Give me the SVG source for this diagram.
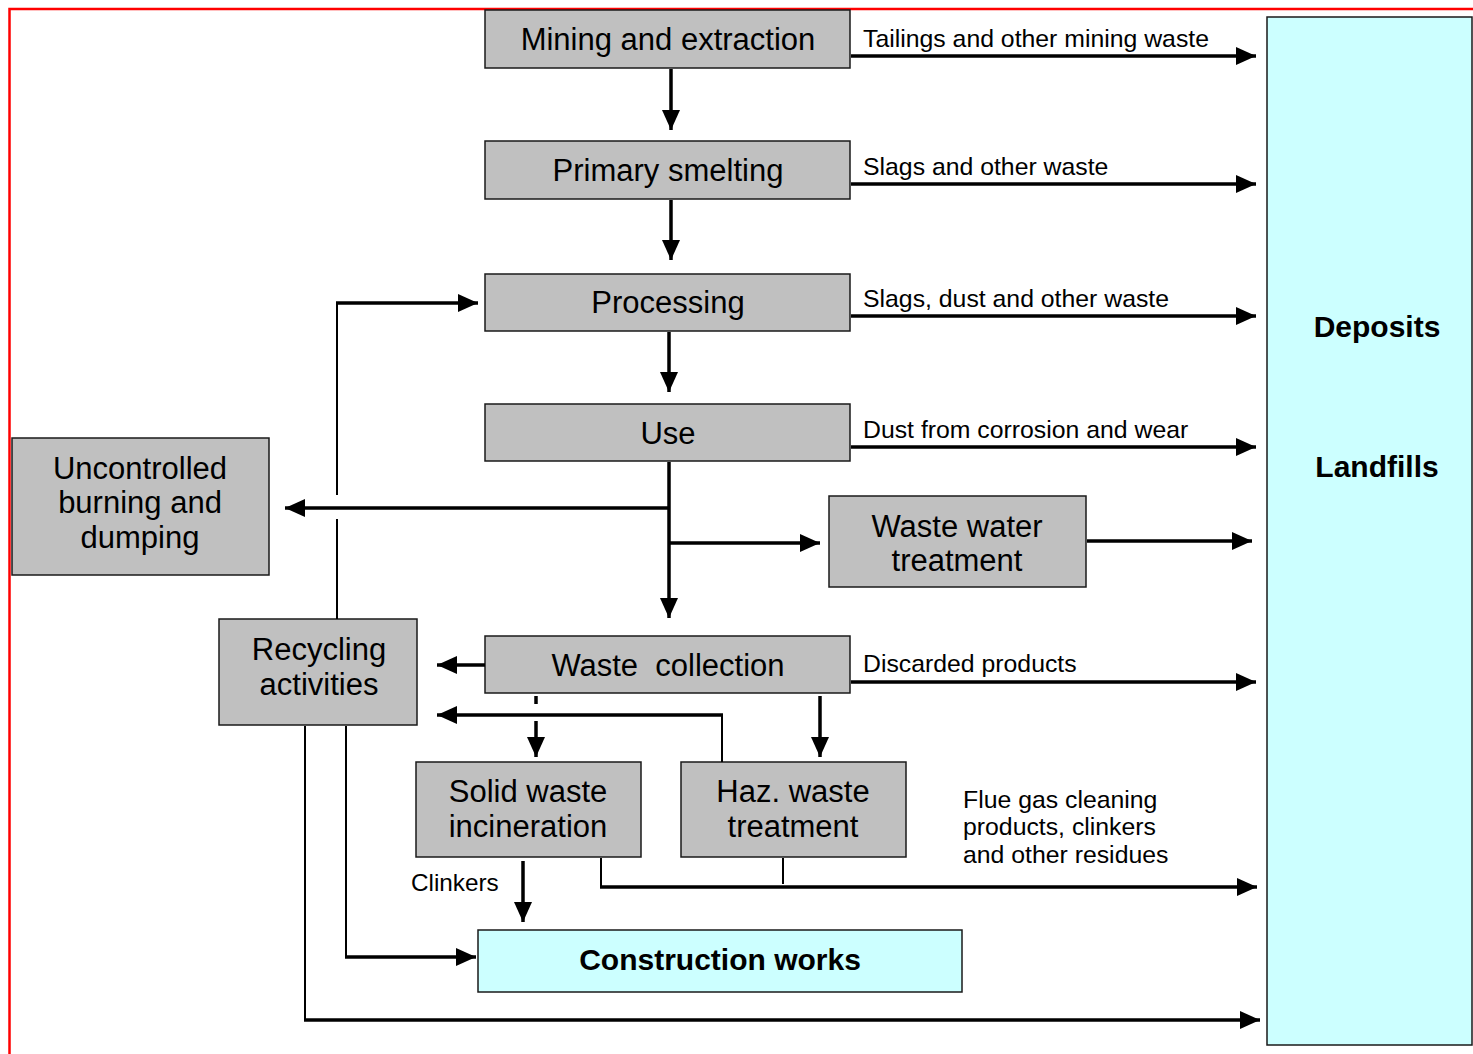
<svg xmlns="http://www.w3.org/2000/svg" width="1473" height="1054" viewBox="0 0 1473 1054">
<defs>
<marker id="ah" markerUnits="userSpaceOnUse" markerWidth="20" markerHeight="18" refX="20" refY="9" orient="auto">
<path d="M0,0 L20,9 L0,18 z" fill="#000"/>
</marker>
<style>
.box{fill:#c0c0c0;stroke:#1a1a1a;stroke-width:1.5}
.cyan{fill:#ccffff;stroke:#1a1a1a;stroke-width:1.5}
.t{font-family:"Liberation Sans",Arial,sans-serif;font-size:31px;fill:#000;text-anchor:middle}
.b{font-weight:bold;font-size:30px}
.l{font-family:"Liberation Sans",Arial,sans-serif;font-size:24.8px;fill:#000}
.k{stroke:#000;stroke-width:3.5;fill:none}
.n{stroke:#000;stroke-width:2;fill:none}
.a{marker-end:url(#ah)}
</style>
</defs>
<rect x="0" y="0" width="1473" height="1054" fill="#fff"/>
<rect x="9.5" y="9" width="1480" height="1100" fill="none" stroke="#ff0000" stroke-width="2.5"/>

<g id="deposits">
<rect class="cyan" x="1267" y="17" width="205" height="1028"/>
<text class="t b" x="1377" y="337">Deposits</text>
<text class="t b" x="1377" y="477">Landfills</text>
</g>
<g id="mining">
<rect class="box" x="485" y="10" width="365" height="58"/>
<text class="t" x="668" y="50">Mining and extraction</text>
</g>
<g id="smelting">
<rect class="box" x="485" y="141" width="365" height="58"/>
<text class="t" x="668" y="181">Primary smelting</text>
</g>
<g id="processing">
<rect class="box" x="485" y="274" width="365" height="57"/>
<text class="t" x="668" y="313">Processing</text>
</g>
<g id="use">
<rect class="box" x="485" y="404" width="365" height="57"/>
<text class="t" x="668" y="444">Use</text>
</g>
<g id="uncontrolled">
<rect class="box" x="12" y="438" width="257" height="137"/>
<text class="t" x="140" y="479">Uncontrolled</text>
<text class="t" x="140" y="513">burning and</text>
<text class="t" x="140" y="548">dumping</text>
</g>
<g id="wastewater">
<rect class="box" x="829" y="496" width="257" height="91"/>
<text class="t" x="957" y="537">Waste water</text>
<text class="t" x="957" y="571">treatment</text>
</g>
<g id="recycling">
<rect class="box" x="219" y="619" width="198" height="106"/>
<text class="t" x="319" y="660">Recycling</text>
<text class="t" x="319" y="695">activities</text>
</g>
<g id="collection">
<rect class="box" x="485" y="636" width="365" height="57"/>
<text class="t" x="668" y="676" xml:space="preserve">Waste  collection</text>
</g>
<g id="incineration">
<rect class="box" x="416" y="762" width="225" height="95"/>
<text class="t" x="528" y="802">Solid waste</text>
<text class="t" x="528" y="837">incineration</text>
</g>
<g id="hazwaste">
<rect class="box" x="681" y="762" width="225" height="95"/>
<text class="t" x="793" y="802">Haz. waste</text>
<text class="t" x="793" y="837">treatment</text>
</g>
<g id="construction">
<rect class="cyan" x="478" y="930" width="484" height="62"/>
<text class="t b" x="720" y="970">Construction works</text>
</g>

<g id="connectors">
<path class="k a" d="M671,69 V130"/>
<path class="k a" d="M671,200 V260"/>
<path class="k a" d="M669,332 V392"/>
<path class="k a" d="M669,462 V618"/>
<path class="k a" d="M669,508 H285"/>
<path class="k a" d="M669,543 H820"/>
<path class="k a" d="M1087,541 H1252"/>
<path class="k a" d="M851,56 H1256"/>
<path class="k a" d="M851,184 H1256"/>
<path class="k a" d="M851,316 H1256"/>
<path class="k a" d="M851,447 H1256"/>
<path class="k a" d="M851,682 H1256"/>
<path class="k a" d="M485,665 H437"/>
<path class="k" d="M536,696 V704"/>
<path class="k a" d="M536,721 V757"/>
<path class="n" d="M722,762 V715"/>
<path class="k a" d="M723,715 H437"/>
<path class="k a" d="M820,696 V757"/>
<path class="k a" d="M523,861 V922"/>
<path class="n" d="M601,858 V887"/>
<path class="k a" d="M600,887 H1257"/>
<path class="n" d="M783,858 V884"/>
<path class="n" d="M337,619 V519"/>
<path class="n" d="M337,495 V302"/>
<path class="k a" d="M336,303 H478"/>
<path class="n" d="M346,726 V957"/>
<path class="k a" d="M345,957 H476"/>
<path class="n" d="M305,726 V1020"/>
<path class="k a" d="M304,1020 H1260"/>
</g>

<g id="labels">
<text class="l" x="863" y="47">Tailings and other mining waste</text>
<text class="l" x="863" y="175">Slags and other waste</text>
<text class="l" x="863" y="307">Slags, dust and other waste</text>
<text class="l" x="863" y="438">Dust from corrosion and wear</text>
<text class="l" x="863" y="672">Discarded products</text>
<text class="l" x="963" y="808">Flue gas cleaning</text>
<text class="l" x="963" y="835">products, clinkers</text>
<text class="l" x="963" y="863">and other residues</text>
<text class="l" x="411" y="891" style="font-size:24.3px">Clinkers</text>
</g>
</svg>
